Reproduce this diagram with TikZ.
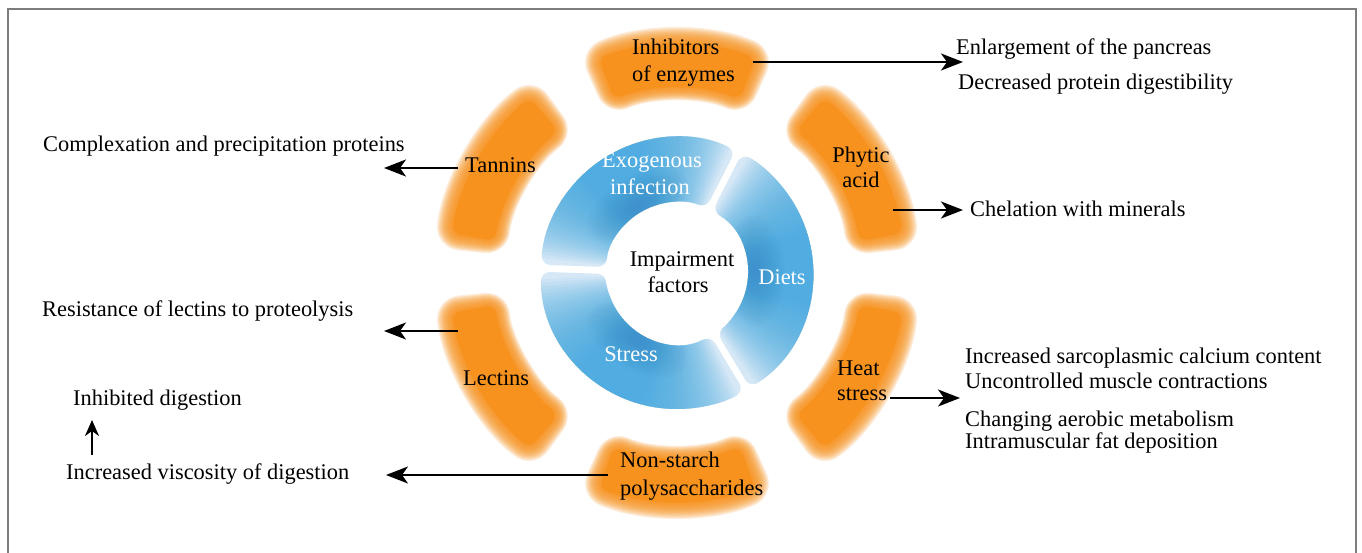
\documentclass[tikz,border=0pt]{standalone}
\usepackage{fontspec}
\setmainfont{Liberation Serif}
\usetikzlibrary{arrows.meta}

\definecolor{ringorange}{RGB}{247,146,30}
\definecolor{bluelight}{RGB}{214,232,246}
\definecolor{bluemid}{RGB}{72,172,225}
\definecolor{bluedark}{RGB}{40,115,180}
\definecolor{framegray}{RGB}{125,125,125}

\tikzset{
  lbl/.style={font=\fontsize{22.4}{27}\selectfont, inner sep=0pt, text=black},
  inlbl/.style={lbl, text=white},
  arr/.style={line width=2.2pt, -{Stealth[length=22pt,width=17pt,inset=6pt]}},
  smallarr/.style={line width=2.2pt, -{Stealth[length=16pt,width=14pt,inset=5pt]}},
}

% soft-edged orange sector of the outer ring, centred on angle #1
\newcommand{\orangeseg}[1]{%
  \foreach \k in {14,13,...,1}{%
    \pgfmathsetmacro{\segdr}{1.05*\k}%
    \pgfmathsetmacro{\segas}{#1-20-\segdr/205*57.3}%
    \pgfmathsetmacro{\segae}{#1+20+\segdr/205*57.3}%
    \pgfmathsetmacro{\segro}{229+\segdr}%
    \pgfmathsetmacro{\segri}{185-\segdr}%
    \pgfmathsetmacro{\segrc}{9+\segdr}%
    \fill[ringorange, opacity=0.15, rounded corners=\segrc pt]
      (\segas:\segro) arc[start angle=\segas, end angle=\segae, radius=\segro]
      -- (\segae:\segri) arc[start angle=\segae, end angle=\segas, radius=\segri] -- cycle;
  }%
  \pgfmathsetmacro{\segas}{#1-20}%
  \pgfmathsetmacro{\segae}{#1+20}%
  \fill[ringorange, rounded corners=9pt]
    (\segas:229) arc[start angle=\segas, end angle=\segae, radius=229]
    -- (\segae:185) arc[start angle=\segae, end angle=\segas, radius=185] -- cycle;
}

% shaded blue sector of the inner ring, from angle #1 to angle #2
\newcommand{\blueseg}[2]{%
  \pgfmathsetmacro{\bsa}{#1+1.5}\pgfmathsetmacro{\bsb}{#2-1.5}%
  \pgfmathsetmacro{\bsc}{#2-2.8}\pgfmathsetmacro{\bsd}{#1+2.8}%
  \pgfmathsetmacro{\bsm}{(#1+#2)/2}%
  \pgfmathsetmacro{\bsh}{(#2-#1)/2}%
  \begin{scope}
    \clip[rounded corners=9pt]
      (\bsa:136) arc[start angle=\bsa, end angle=\bsb, radius=136]
      -- (\bsc:71) arc[start angle=\bsc, end angle=\bsd, radius=71] -- cycle;
    \fill[bluelight] (-140,-140) rectangle (140,140);
    % angular build-up of the mid tone towards the middle of the sector
    \foreach \k in {1,...,30}{%
      \pgfmathsetmacro{\bsw}{\bsh*(0.95-0.75*\k/30)}%
      \pgfmathsetmacro{\bsp}{\bsm-\bsw}\pgfmathsetmacro{\bsq}{\bsm+\bsw}%
      \fill[bluemid, opacity=0.075] (0,0) -- (\bsp:150) arc[start angle=\bsp, end angle=\bsq, radius=150] -- cycle;
    }%
    % darker patch along the inner edge
    \begin{scope}[rotate=\bsm]
      \foreach \k in {1,...,14}{%
        \pgfmathsetmacro{\bsx}{30*\k/14}\pgfmathsetmacro{\bsy}{55*\k/14}%
        \fill[bluedark, opacity=0.03] (78,0) ellipse [x radius=\bsx, y radius=\bsy];
      }%
    \end{scope}
  \end{scope}
}

\begin{document}
\begin{tikzpicture}[x=1pt, y=1pt]
\useasboundingbox (0,0) rectangle (1362,552);
\fill[white] (0,0) rectangle (1362,552);
\draw[framegray, line width=1.8pt] (8,-10) rectangle (1356,543);

% rings
\begin{scope}[shift={(677,279)}]
  \orangeseg{90}
  \orangeseg{150}
  \orangeseg{210}
  \orangeseg{270}
  \orangeseg{330}
  \orangeseg{30}
  \blueseg{-59}{63}
  \blueseg{63}{178}
  \blueseg{178}{301}
\end{scope}

% ring labels
\node[lbl, anchor=base west] (inh1) at (632,497) {Inhibitors};
\node[lbl, anchor=base west] (inh2) at (632,470) {of enzymes};
\node[lbl, anchor=base west] (tan) at (465,379) {Tannins};
\node[lbl, anchor=base] (phy1) at (861,389) {Phytic};
\node[lbl, anchor=base] (phy2) at (861,364) {acid};
\node[lbl, anchor=base west] (heat1) at (837,177) {Heat};
\node[lbl, anchor=base west] (heat2) at (837,152) {stress};
\node[lbl, anchor=base west] (nsp1) at (620,85) {Non-starch};
\node[lbl, anchor=base west] (nsp2) at (620,57) {polysaccharides};
\node[lbl, anchor=base west] (lec) at (463,167) {Lectins};
\node[inlbl, anchor=base] (exo1) at (652,384) {Exogenous};
\node[inlbl, anchor=base] (exo2) at (650,357) {infection};
\node[lbl, anchor=base] (imp1) at (682,285) {Impairment};
\node[lbl, anchor=base] (imp2) at (678,259) {factors};
\node[inlbl, anchor=base] (diet) at (782,267) {Diets};
\node[inlbl, anchor=base] (strs) at (631,190) {Stress};

% effect texts
\node[lbl, anchor=base west] (eff1) at (956,497) {Enlargement of the pancreas};
\node[lbl, anchor=base west] (eff2) at (958,462) {Decreased protein digestibility};
\node[lbl, anchor=base west] (eff3) at (43,400) {Complexation and precipitation proteins};
\node[lbl, anchor=base west] (eff4) at (970,335) {Chelation with minerals};
\node[lbl, anchor=base west] (eff5) at (42,235) {Resistance of lectins to proteolysis};
\node[lbl, anchor=base west] (eff6) at (965,189) {Increased sarcoplasmic calcium content};
\node[lbl, anchor=base west] (eff7) at (965,164) {Uncontrolled muscle contractions};
\node[lbl, anchor=base west] (eff8) at (965,126) {Changing aerobic metabolism};
\node[lbl, anchor=base west] (eff9) at (965,104) {Intramuscular fat deposition};
\node[lbl, anchor=base west] (eff10) at (73,147) {Inhibited digestion};
\node[lbl, anchor=base west] (eff11) at (66,73) {Increased viscosity of digestion};

% arrow end points
\coordinate (inhS) at (753,490);  \coordinate (inhE) at (963,490);
\coordinate (tanS) at (458,384);  \coordinate (tanE) at (384,384);
\coordinate (phyS) at (893,342);  \coordinate (phyE) at (963,342);
\coordinate (lecS) at (458,221);  \coordinate (lecE) at (384,221);
\coordinate (heatS) at (890,154); \coordinate (heatE) at (960,154);
\coordinate (nspS) at (608,77);   \coordinate (nspE) at (386,77);
\coordinate (upS) at (92,97);     \coordinate (upE) at (92,132);

\draw[arr] (inhS) -- (inhE);
\draw[arr] (tanS) -- (tanE);
\draw[arr] (phyS) -- (phyE);
\draw[arr] (lecS) -- (lecE);
\draw[arr] (heatS) -- (heatE);
\draw[arr] (nspS) -- (nspE);
\draw[smallarr] (upS) -- (upE);
\end{tikzpicture}
\end{document}
